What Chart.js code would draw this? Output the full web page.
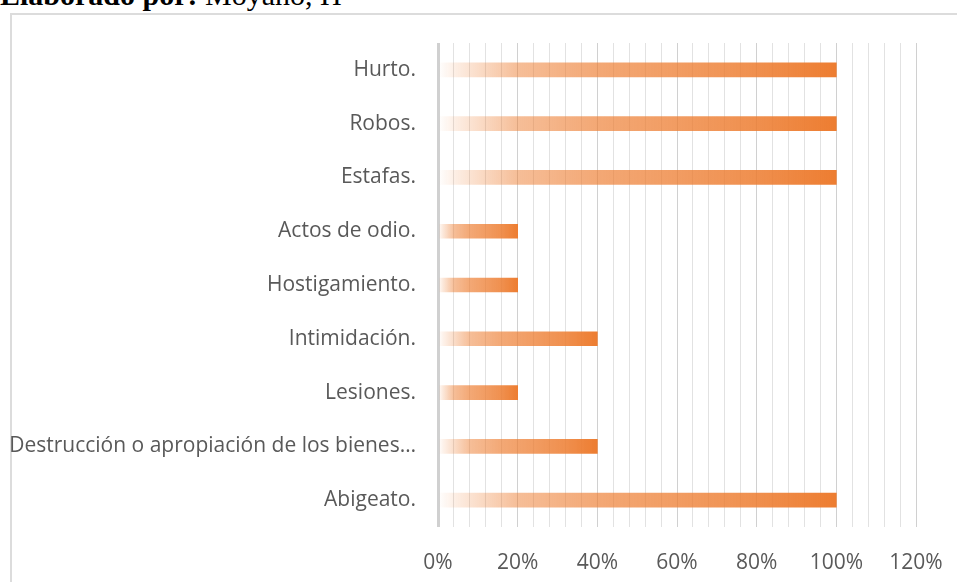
<!DOCTYPE html>
<html>
<head>
<meta charset="utf-8">
<script src="https://cdn.jsdelivr.net/npm/chart.js@4.4.1/dist/chart.umd.min.js"></script>
<style>
  html, body { margin: 0; padding: 0; background: #fff; overflow: hidden; width: 957px; height: 582px; }
  #title { position: absolute; left: 0; top: -20px; font-family: "Liberation Serif", "Times New Roman", serif; font-size: 30px; line-height: 30px; color: #000; white-space: nowrap; }
  #frame { position: absolute; left: 10px; top: 13px; width: 1200px; height: 1000px; border: 2px solid #dcdcdc; box-sizing: border-box; }
  #wrap { position: absolute; left: 0; top: 0; width: 957px; height: 582px; }
</style>
</head>
<body>
<div id="title"><b>Elaborado por:</b> Moyano, H</div>
<div id="frame"></div>
<div id="wrap"><canvas id="c" width="957" height="582"></canvas></div>
<script>
const categories = ['Hurto.', 'Robos.', 'Estafas.', 'Actos de odio.', 'Hostigamiento.', 'Intimidación.', 'Lesiones.', 'Destrucción o apropiación de los bienes…', 'Abigeato.'];
const values = [100, 100, 100, 20, 20, 40, 20, 40, 100];
const axisMax = 120;
const axisStep = 4;
const majorStep = 20;

const ORANGE = [237, 125, 49];
const alphaStops = [[0, 0], [0.04, 0.12], [0.2, 0.5], [0.4, 0.67], [0.6, 0.76], [0.8, 0.86], [1, 1]];

function barGradient(ctx) {
  const chart = ctx.chart;
  const c = 'rgba(' + ORANGE.join(',') + ',1)';
  if (!chart.chartArea || ctx.type !== 'data') return c;
  const xs = chart.scales.x;
  const x0 = xs.getPixelForValue(0);
  const x1 = xs.getPixelForValue(ctx.raw);
  if (!(x1 > x0)) return c;
  const g = chart.ctx.createLinearGradient(x0, 0, x1, 0);
  alphaStops.forEach(([t, a]) => g.addColorStop(t, 'rgba(' + ORANGE.join(',') + ',' + a + ')'));
  return g;
}

const labelFont = { family: '"Open Sans", "Noto Sans", sans-serif', size: 21 };

new Chart(document.getElementById('c'), {
  type: 'bar',
  data: {
    labels: categories,
    datasets: [{
      data: values,
      backgroundColor: barGradient,
      borderWidth: 0,
      barThickness: 14
    }]
  },
  options: {
    indexAxis: 'y',
    responsive: false,
    animation: false,
    maintainAspectRatio: false,
    layout: { padding: { top: 43, right: 41, left: 0, bottom: 0 } },
    plugins: { legend: { display: false }, tooltip: { enabled: false } },
    scales: {
      x: {
        type: 'linear',
        min: 0,
        max: axisMax,
        border: { display: false },
        grid: {
          drawTicks: true,
          tickLength: 23,
          tickColor: 'rgba(0,0,0,0)',
          color: (c) => (c.tick && c.tick.value % majorStep === 0) ? '#d0d0d0' : '#e2e2e2',
          lineWidth: (c) => (c.tick && c.tick.value === 0) ? 3 : 1
        },
        ticks: {
          stepSize: axisStep,
          autoSkip: false,
          maxRotation: 0,
          padding: 0,
          color: '#595959',
          font: labelFont,
          callback: (v) => (v % majorStep === 0) ? v + '%' : ''
        },
        afterFit: (s) => { s.height = 55; }
      },
      y: {
        border: { display: false },
        grid: { display: false, drawTicks: false },
        ticks: {
          autoSkip: false,
          padding: 22,
          color: '#595959',
          font: labelFont
        },
        afterFit: (s) => { s.width = 438; }
      }
    }
  }
});
</script>
</body>
</html>
